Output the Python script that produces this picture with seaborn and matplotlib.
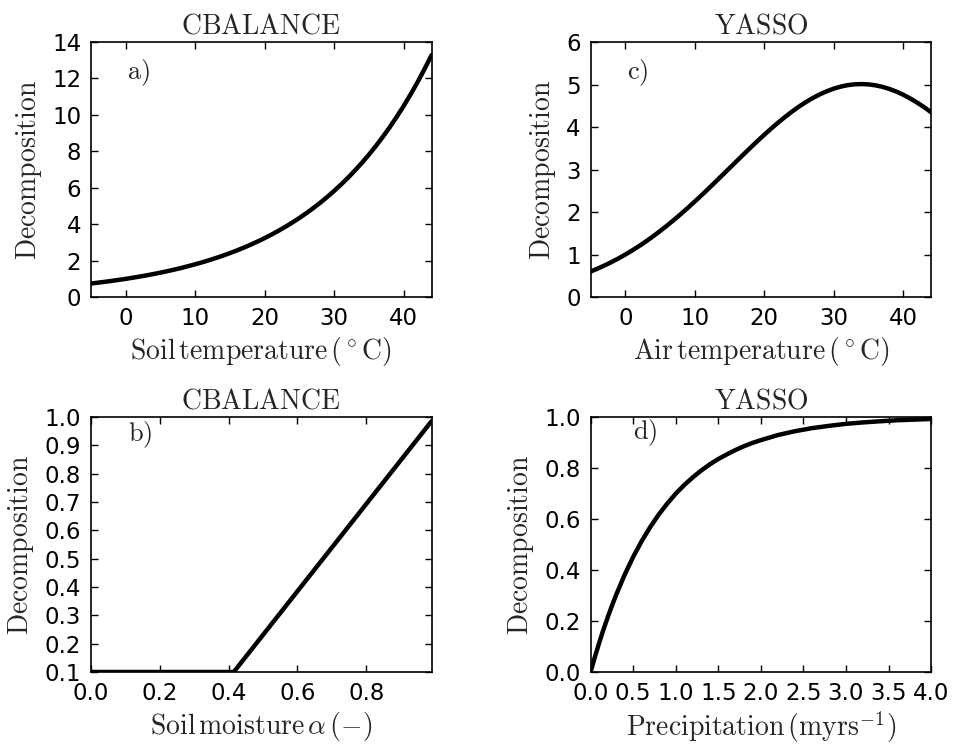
import matplotlib
matplotlib.use('Agg')
import matplotlib.pyplot as plt
import seaborn as sns
import pandas as pd

# Panel a) CBALANCE soil temperature response
soil_temp = list(range(-5, 45))
soil_temp_dec = [0.745, 0.790, 0.838, 0.889, 0.943, 1.0, 1.061, 1.125, 1.193, 1.265,
                 1.342, 1.423, 1.509, 1.600, 1.697, 1.8, 1.909, 2.024, 2.147, 2.277,
                 2.415, 2.561, 2.716, 2.880, 3.055, 3.24, 3.436, 3.644, 3.865, 4.099,
                 4.347, 4.610, 4.889, 5.185, 5.499, 5.832, 6.185, 6.559, 6.956, 7.377,
                 7.824, 8.297, 8.800, 9.332, 9.897, 10.498, 11.133, 11.807, 12.522, 13.280]

# Panel b) CBALANCE soil moisture response
soil_moist = [0.0, 0.415, 0.99]
soil_moist_dec = [0.1, 0.1, 0.985]

# Panel c) YASSO air temperature response
air_temp = list(range(-5, 45))
air_temp_dec = [0.600, 0.669, 0.743, 0.822, 0.908, 1.0, 1.098, 1.202, 1.313, 1.430,
                1.553, 1.681, 1.816, 1.955, 2.099, 2.248, 2.400, 2.556, 2.714, 2.874,
                3.034, 3.195, 3.355, 3.513, 3.668, 3.819, 3.965, 4.106, 4.239, 4.365,
                4.482, 4.589, 4.685, 4.770, 4.843, 4.904, 4.951, 4.985, 5.005, 5.011,
                5.003, 4.981, 4.945, 4.896, 4.834, 4.759, 4.672, 4.574, 4.466, 4.348]

# Panel d) YASSO precipitation response
precip = [0, 0.05, 0.1, 0.15, 0.2, 0.25, 0.3, 0.4, 0.5, 0.6, 0.7, 0.8, 0.9, 1.0,
          1.1, 1.2, 1.3, 1.4, 1.5, 1.6, 1.7, 1.8, 1.9, 2.0, 2.2, 2.4, 2.6, 2.8,
          3.0, 3.2, 3.4, 3.6, 3.8, 4.0]
precip_dec = [0.0, 0.058, 0.113, 0.165, 0.213, 0.259, 0.302, 0.381, 0.451, 0.513,
              0.568, 0.617, 0.660, 0.699, 0.733, 0.763, 0.790, 0.814, 0.835, 0.853,
              0.870, 0.885, 0.898, 0.909, 0.929, 0.944, 0.956, 0.965, 0.973, 0.9785,
              0.983, 0.987, 0.9895, 0.992]

sns.set_theme(style='ticks')
plt.rcParams['font.family'] = ['DejaVu Sans']
plt.rcParams['mathtext.fontset'] = 'cm'
plt.rcParams['xtick.direction'] = 'in'
plt.rcParams['ytick.direction'] = 'in'
plt.rcParams['xtick.top'] = True
plt.rcParams['ytick.right'] = True
plt.rcParams['xtick.major.size'] = 5
plt.rcParams['ytick.major.size'] = 5
plt.rcParams['xtick.major.width'] = 1
plt.rcParams['ytick.major.width'] = 1
plt.rcParams['axes.linewidth'] = 1.2
plt.rcParams['axes.edgecolor'] = 'black'
plt.rcParams['xtick.color'] = 'black'
plt.rcParams['ytick.color'] = 'black'

fig, axes = plt.subplots(2, 2, figsize=(9.54, 7.45), dpi=100)
fig.subplots_adjust(left=0.0954, right=0.976, top=0.9436, bottom=0.098,
                    wspace=0.467, hspace=0.47)

panels = [
    (axes[0, 0], soil_temp, soil_temp_dec, r'$\mathrm{CBALANCE}$',
     r'$\mathrm{Soil\,temperature\,(^\circ C)}$', r'$\mathrm{a)}$', (0.105, 0.88)),
    (axes[1, 0], soil_moist, soil_moist_dec, r'$\mathrm{CBALANCE}$',
     r'$\mathrm{Soil\,moisture}\,\alpha\,(-)$', r'$\mathrm{b)}$', (0.108, 0.93)),
    (axes[0, 1], air_temp, air_temp_dec, r'$\mathrm{YASSO}$',
     r'$\mathrm{Air\,temperature\,(^\circ C)}$', r'$\mathrm{c)}$', (0.106, 0.88)),
    (axes[1, 1], precip, precip_dec, r'$\mathrm{YASSO}$',
     r'$\mathrm{Precipitation\,(myrs^{-1})}$', r'$\mathrm{d)}$', (0.126, 0.937)),
]

for ax, x, y, title, xlabel, tag, pos in panels:
    df = pd.DataFrame({'x': x, 'y': y})
    sns.lineplot(data=df, x='x', y='y', ax=ax, color='black', linewidth=3.2)
    ax.set_title(title, fontsize=20, pad=6)
    ax.set_xlabel(xlabel, fontsize=20, labelpad=3.5)
    ax.set_ylabel(r'$\mathrm{Decomposition}$', fontsize=20, labelpad=6)
    ax.tick_params(labelsize=16.5, pad=7)
    ax.text(pos[0], pos[1], tag, transform=ax.transAxes, fontsize=19,
            ha='left', va='center')

axes[0, 0].set_xlim(-5, 44)
axes[0, 0].set_ylim(0, 14)
axes[0, 0].set_xticks([0, 10, 20, 30, 40])
axes[0, 0].set_yticks(range(0, 15, 2))

axes[0, 1].set_xlim(-5, 44)
axes[0, 1].set_ylim(0, 6)
axes[0, 1].set_xticks([0, 10, 20, 30, 40])
axes[0, 1].set_yticks(range(0, 7))

axes[1, 0].set_xlim(0, 0.99)
axes[1, 0].set_ylim(0.1, 1.0)
axes[1, 0].set_xticks([0.0, 0.2, 0.4, 0.6, 0.8])
axes[1, 0].set_xticklabels(['0.0', '0.2', '0.4', '0.6', '0.8'])
axes[1, 0].set_yticks([0.1, 0.2, 0.3, 0.4, 0.5, 0.6, 0.7, 0.8, 0.9, 1.0])
axes[1, 0].set_yticklabels(['0.1', '0.2', '0.3', '0.4', '0.5', '0.6', '0.7',
                            '0.8', '0.9', '1.0'])

axes[1, 1].set_xlim(0, 4)
axes[1, 1].set_ylim(0, 1)
axes[1, 1].set_xticks([0, 0.5, 1, 1.5, 2, 2.5, 3, 3.5, 4])
axes[1, 1].set_xticklabels(['0.0', '0.5', '1.0', '1.5', '2.0', '2.5', '3.0',
                            '3.5', '4.0'])
axes[1, 1].set_yticks([0, 0.2, 0.4, 0.6, 0.8, 1.0])
axes[1, 1].set_yticklabels(['0.0', '0.2', '0.4', '0.6', '0.8', '1.0'])

for ax in axes.flat:
    for side in ['top', 'right', 'left', 'bottom']:
        ax.spines[side].set_visible(True)

fig.savefig('out.png', dpi=100)
